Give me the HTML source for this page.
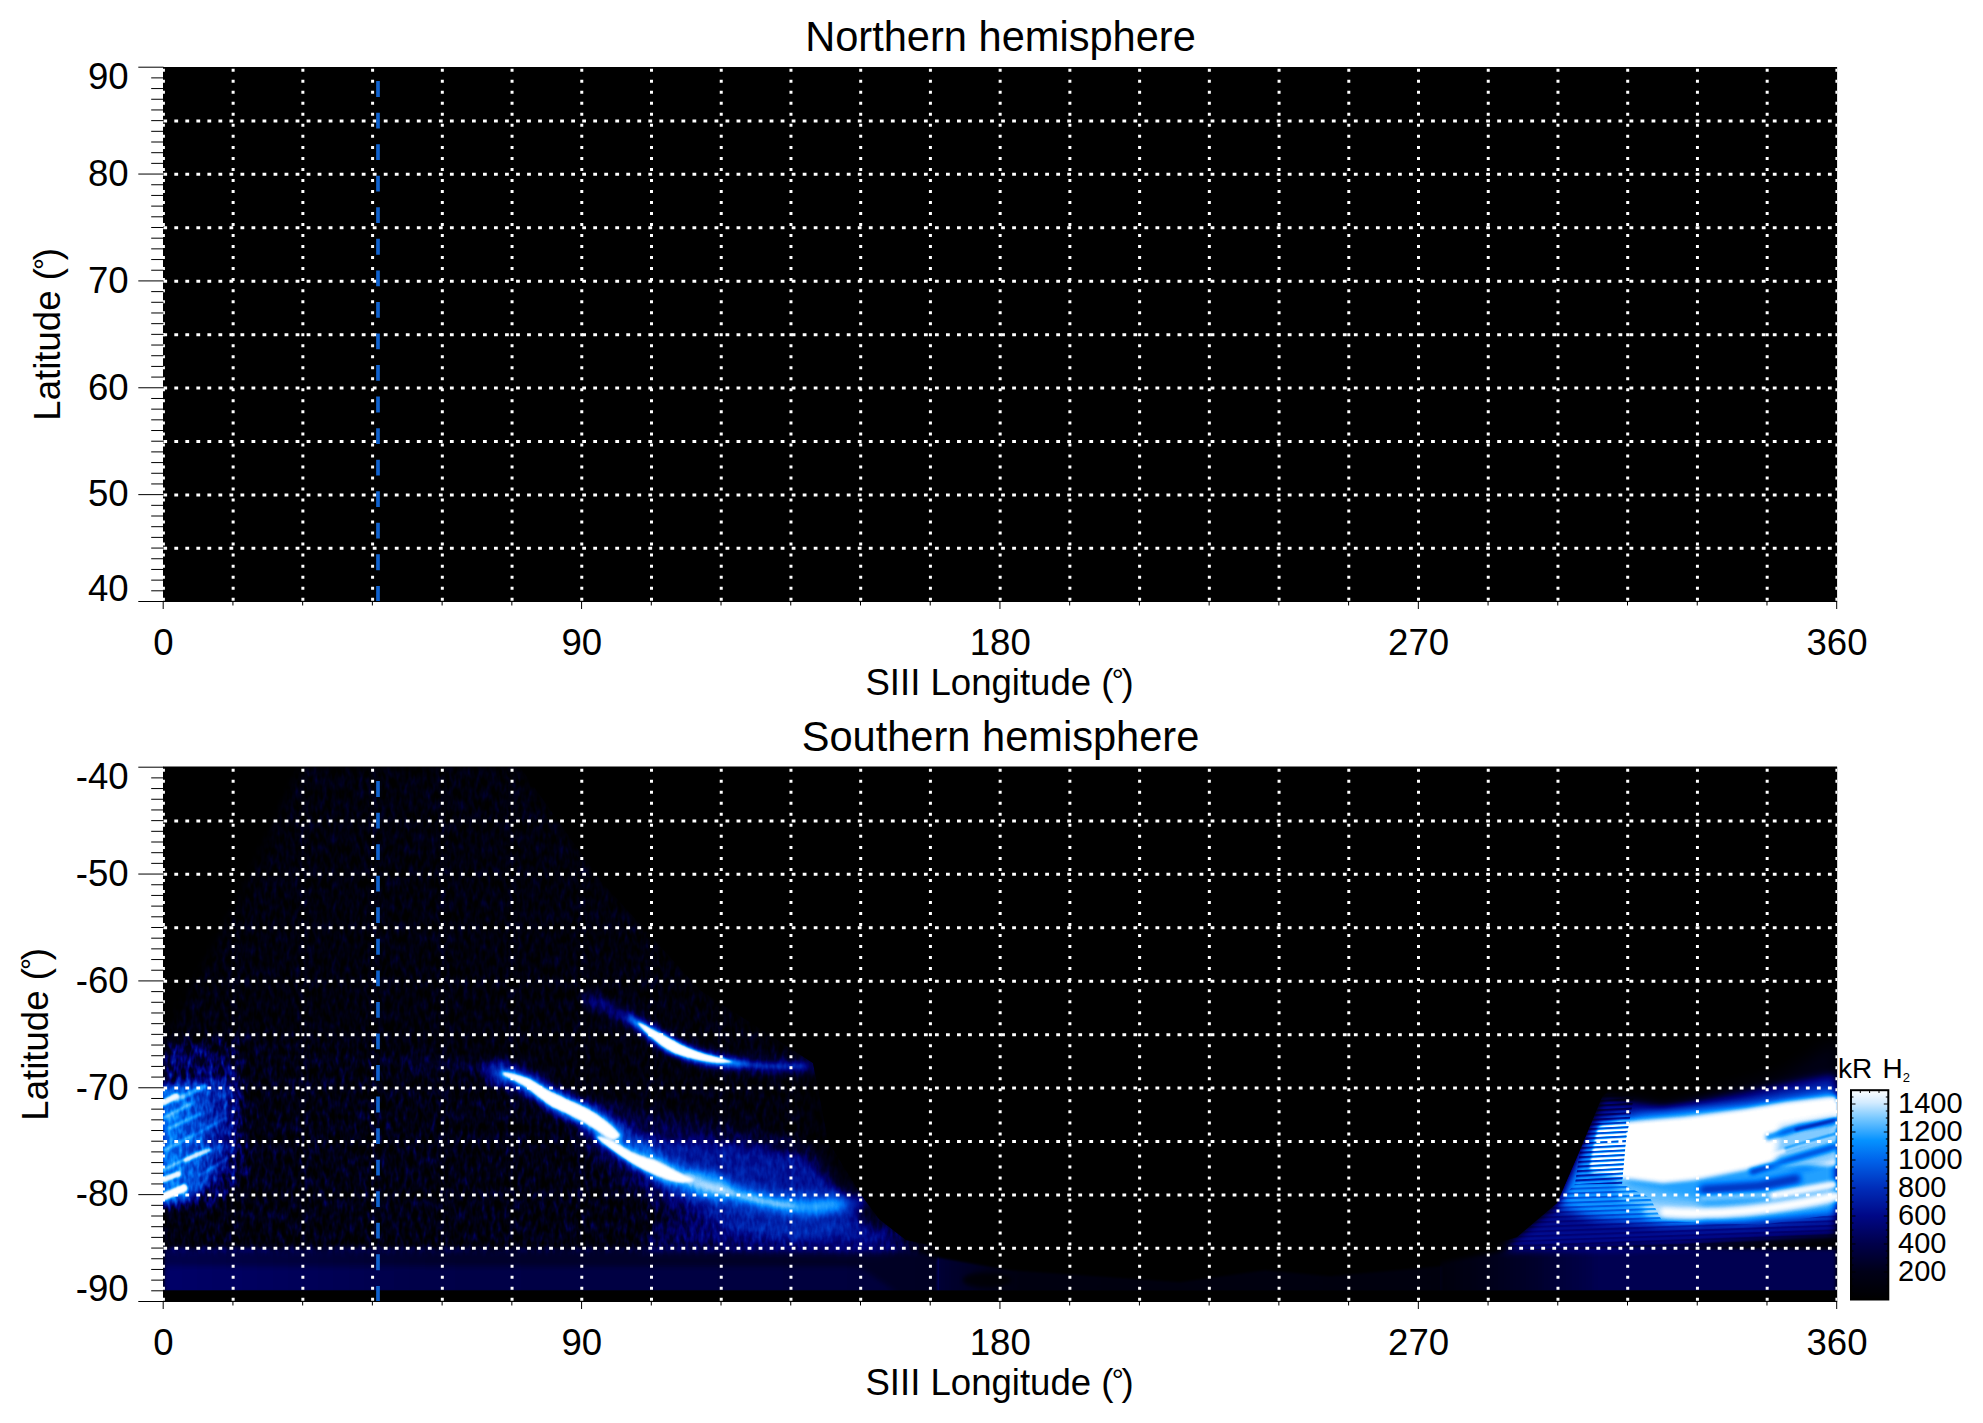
<!DOCTYPE html>
<html lang="en"><head><meta charset="utf-8"><title>Northern / Southern hemisphere</title>
<style>html,body{margin:0;padding:0;background:#fff}body{width:1983px;height:1423px;overflow:hidden}svg{display:block}text{font-family:"Liberation Sans",sans-serif;fill:#000}</style>
</head><body>
<svg width="1983" height="1423" viewBox="0 0 1983 1423">
<defs>
<clipPath id="clip0"><rect x="163" y="66.5" width="1674.1" height="535.5"/></clipPath>
<clipPath id="clip1"><rect x="163" y="766.5" width="1674.1" height="535.5"/></clipPath>
<linearGradient id="cb" x1="0" y1="1" x2="0" y2="0">
<stop offset="0" stop-color="#000000"/>
<stop offset="0.133" stop-color="#000018"/>
<stop offset="0.267" stop-color="#00004b"/>
<stop offset="0.4" stop-color="#000887"/>
<stop offset="0.533" stop-color="#002db9"/>
<stop offset="0.667" stop-color="#0064eb"/>
<stop offset="0.76" stop-color="#0592ff"/>
<stop offset="0.867" stop-color="#78c8ff"/>
<stop offset="0.94" stop-color="#d2ebff"/>
<stop offset="1" stop-color="#ffffff"/>
</linearGradient>
<filter id="cmap" filterUnits="userSpaceOnUse" x="160" y="760" width="1682" height="546" color-interpolation-filters="sRGB">
<feComponentTransfer>
<feFuncR type="table" tableValues="0 0 0 0 0 0 0 0 0 0 0 0.01 0.16 0.47 0.78 1"/>
<feFuncG type="table" tableValues="0 0 0 0 0 0 0.03 0.1 0.18 0.27 0.39 0.53 0.65 0.78 0.9 1"/>
<feFuncB type="table" tableValues="0 0.04 0.094 0.176 0.294 0.43 0.53 0.63 0.725 0.82 0.92 1 1 1 1 1"/>
</feComponentTransfer>
</filter>
<filter id="b1" color-interpolation-filters="sRGB" filterUnits="userSpaceOnUse" x="100" y="740" width="1800" height="600"><feGaussianBlur stdDeviation="1"/></filter>
<filter id="b2" color-interpolation-filters="sRGB" filterUnits="userSpaceOnUse" x="100" y="740" width="1800" height="600"><feGaussianBlur stdDeviation="2"/></filter>
<filter id="b3" color-interpolation-filters="sRGB" filterUnits="userSpaceOnUse" x="100" y="740" width="1800" height="600"><feGaussianBlur stdDeviation="3"/></filter>
<filter id="b5" color-interpolation-filters="sRGB" filterUnits="userSpaceOnUse" x="100" y="740" width="1800" height="600"><feGaussianBlur stdDeviation="5"/></filter>
<filter id="b8" color-interpolation-filters="sRGB" filterUnits="userSpaceOnUse" x="100" y="740" width="1800" height="600"><feGaussianBlur stdDeviation="8"/></filter>
<filter id="b14" color-interpolation-filters="sRGB" filterUnits="userSpaceOnUse" x="100" y="740" width="1800" height="600"><feGaussianBlur stdDeviation="14"/></filter>
<filter id="nz" filterUnits="userSpaceOnUse" x="150" y="750" width="1700" height="560" color-interpolation-filters="sRGB">
<feGaussianBlur in="SourceGraphic" stdDeviation="5" result="s"/>
<feTurbulence type="fractalNoise" baseFrequency="0.22 0.09" numOctaves="2" seed="7" result="t"/>
<feColorMatrix in="t" type="matrix" values="0 0 0 0 1  0 0 0 0 1  0 0 0 0 1  1.8 0 0 0 -0.55" result="n"/>
<feComposite in="n" in2="s" operator="in"/>
</filter>
<pattern id="comb" patternUnits="userSpaceOnUse" x="0" y="0" width="40" height="4.6" patternTransform="rotate(-3)"><rect x="0" y="0" width="40" height="2.1" fill="#000" opacity="0.38"/></pattern>
<pattern id="comb2" patternUnits="userSpaceOnUse" x="0" y="0" width="40" height="4.6" patternTransform="rotate(-2)"><rect x="0" y="0" width="40" height="2" fill="#000" opacity="0.16"/></pattern>
<clipPath id="cband"><rect x="160" y="760" width="1682" height="530.4"/></clipPath>
<clipPath id="cgl"><path d="M163 767H520L600 880L700 990L813 1063L828 1141L843 1166L864 1199L879 1219L906 1240L939 1247V1302H163Z"/></clipPath>
<clipPath id="cgr"><path d="M1837 1000V1302H1440V1250L1480 1248L1517 1237L1557 1203L1580 1150L1602 1097L1640 1060Z"/></clipPath>
<linearGradient id="lg1" x1="163" y1="0" x2="240" y2="0" gradientUnits="userSpaceOnUse">
<stop offset="0" stop-color="#fff" stop-opacity="0.62"/>
<stop offset="0.5" stop-color="#fff" stop-opacity="0.42"/>
<stop offset="1" stop-color="#fff" stop-opacity="0.1"/>
</linearGradient>
<linearGradient id="lg2" x1="1440" y1="0" x2="1600" y2="0" gradientUnits="userSpaceOnUse">
<stop offset="0" stop-color="#fff" stop-opacity="0.08"/>
<stop offset="1" stop-color="#fff" stop-opacity="0.28"/>
</linearGradient>
<linearGradient id="lg3" x1="939" y1="0" x2="1440" y2="0" gradientUnits="userSpaceOnUse">
<stop offset="0" stop-color="#fff" stop-opacity="0.22"/>
<stop offset="0.07" stop-color="#fff" stop-opacity="0.17"/>
<stop offset="0.16" stop-color="#fff" stop-opacity="0.1"/>
<stop offset="1" stop-color="#fff" stop-opacity="0.085"/>
</linearGradient>
<linearGradient id="lg4" x1="163" y1="0" x2="939" y2="0" gradientUnits="userSpaceOnUse">
<stop offset="0" stop-color="#fff" stop-opacity="0.27"/>
<stop offset="0.35" stop-color="#fff" stop-opacity="0.2"/>
<stop offset="1" stop-color="#fff" stop-opacity="0.17"/>
</linearGradient>
</defs>

<g>
<rect x="163.00" y="67.00" width="1674.10" height="535.00" fill="#000"/>
<path d="M163.40 600.70V67.20M233.13 600.70V67.20M302.86 600.70V67.20M372.59 600.70V67.20M442.32 600.70V67.20M512.05 600.70V67.20M581.77 600.70V67.20M651.50 600.70V67.20M721.23 600.70V67.20M790.96 600.70V67.20M860.69 600.70V67.20M930.42 600.70V67.20M1000.15 600.70V67.20M1069.88 600.70V67.20M1139.61 600.70V67.20M1209.34 600.70V67.20M1279.07 600.70V67.20M1348.80 600.70V67.20M1418.53 600.70V67.20M1488.25 600.70V67.20M1557.98 600.70V67.20M1627.71 600.70V67.20M1697.44 600.70V67.20M1767.17 600.70V67.20M1836.90 600.70V67.20" stroke="#fff" stroke-width="3" stroke-dasharray="3 8.02" fill="none" clip-path="url(#clip0)"/>
<path d="M163.30 120.93H1838.50M163.30 174.36H1838.50M163.30 227.79H1838.50M163.30 281.22H1838.50M163.30 334.65H1838.50M163.30 388.08H1838.50M163.30 441.51H1838.50M163.30 494.94H1838.50M163.30 548.37H1838.50" stroke="#fff" stroke-width="3" stroke-dasharray="3.8 7.224" fill="none" clip-path="url(#clip0)"/>
<path d="M378.00 601.70V67.20" stroke="#0f62cf" stroke-width="3.7" stroke-dasharray="15.8 15.75" fill="none" clip-path="url(#clip0)"/>
<path d="M138.30 67.20H163.50M151.20 77.89H163.50M151.20 88.57H163.50M151.20 99.26H163.50M151.20 109.94H163.50M151.20 120.63H163.50M151.20 131.32H163.50M151.20 142.00H163.50M151.20 152.69H163.50M151.20 163.37H163.50M138.30 174.06H163.50M151.20 184.75H163.50M151.20 195.43H163.50M151.20 206.12H163.50M151.20 216.80H163.50M151.20 227.49H163.50M151.20 238.18H163.50M151.20 248.86H163.50M151.20 259.55H163.50M151.20 270.23H163.50M138.30 280.92H163.50M151.20 291.61H163.50M151.20 302.29H163.50M151.20 312.98H163.50M151.20 323.66H163.50M151.20 334.35H163.50M151.20 345.04H163.50M151.20 355.72H163.50M151.20 366.41H163.50M151.20 377.09H163.50M138.30 387.78H163.50M151.20 398.47H163.50M151.20 409.15H163.50M151.20 419.84H163.50M151.20 430.52H163.50M151.20 441.21H163.50M151.20 451.90H163.50M151.20 462.58H163.50M151.20 473.27H163.50M151.20 483.95H163.50M138.30 494.64H163.50M151.20 505.33H163.50M151.20 516.01H163.50M151.20 526.70H163.50M151.20 537.38H163.50M151.20 548.07H163.50M151.20 558.76H163.50M151.20 569.44H163.50M151.20 580.13H163.50M151.20 590.81H163.50M138.30 601.50H163.50M163.20 601.50V609.00M232.93 601.50V605.50M302.66 601.50V605.50M372.39 601.50V605.50M442.12 601.50V605.50M511.85 601.50V605.50M581.58 601.50V609.00M651.30 601.50V605.50M721.03 601.50V605.50M790.76 601.50V605.50M860.49 601.50V605.50M930.22 601.50V605.50M999.95 601.50V609.00M1069.68 601.50V605.50M1139.41 601.50V605.50M1209.14 601.50V605.50M1278.87 601.50V605.50M1348.60 601.50V605.50M1418.33 601.50V609.00M1488.05 601.50V605.50M1557.78 601.50V605.50M1627.51 601.50V605.50M1697.24 601.50V605.50M1766.97 601.50V605.50M1836.70 601.50V609.00M163.00 601.50H1837.10" stroke="#000" stroke-width="1" fill="none"/>
<text x="128.6" y="89.40" font-size="36.60" text-anchor="end">90</text>
<text x="128.6" y="185.86" font-size="36.60" text-anchor="end">80</text>
<text x="128.6" y="292.72" font-size="36.60" text-anchor="end">70</text>
<text x="128.6" y="399.58" font-size="36.60" text-anchor="end">60</text>
<text x="128.6" y="506.44" font-size="36.60" text-anchor="end">50</text>
<text x="128.6" y="600.80" font-size="36.60" text-anchor="end">40</text>
<text x="163.50" y="655.10" font-size="36.60" text-anchor="middle">0</text>
<text x="581.88" y="655.10" font-size="36.60" text-anchor="middle">90</text>
<text x="1000.25" y="655.10" font-size="36.60" text-anchor="middle">180</text>
<text x="1418.62" y="655.10" font-size="36.60" text-anchor="middle">270</text>
<text x="1837.00" y="655.10" font-size="36.60" text-anchor="middle">360</text>
<text x="999.5" y="695.30" font-size="36.60" text-anchor="middle">SIII Longitude (<tspan font-size="30" dy="-5.5" dx="-1.8">&#176;</tspan><tspan dy="5.5" dx="-2.3">)</tspan></text>
<text transform="translate(60.1 334.35) rotate(-90)" font-size="36.60" text-anchor="middle">Latitude (<tspan font-size="30" dy="-5.5" dx="-1.8">&#176;</tspan><tspan dy="5.5" dx="-2.3">)</tspan></text>
<text x="1000.5" y="50.70" font-size="41.6" text-anchor="middle">Northern hemisphere</text>
</g>
<g>
<rect x="163.00" y="767.00" width="1674.10" height="535.00" fill="#000"/>
<g clip-path="url(#clip1)">
<g filter="url(#cmap)">
<rect x="160" y="760" width="1682" height="546" fill="#000"/>
<g clip-path="url(#cband)">
<!-- faint haze wedge (left) -->
<g clip-path="url(#cgl)">
<g filter="url(#nz)" fill="#fff">
<path d="M300 767H520L600 880L700 990L813 1063L870 1200L939 1250H163V1040L240 900Z" opacity="0.22"/>
<path d="M163 1040L260 1030L420 1050L500 1060L600 1100L700 1180L800 1245H163Z" opacity="0.1"/>
<path d="M163 1043L236 1040L250 1170L215 1205L163 1210Z" opacity="0.3"/>
</g>
<!-- bottom band left -->
<path d="M163 1247H900L939 1258V1296H163Z" fill="url(#lg4)" filter="url(#b2)"/>
<path d="M163 1266H860L900 1294H163Z" fill="#fff" opacity="0.08" filter="url(#b3)"/>
<!-- left-edge patch -->
<path d="M163 1043L200 1046L240 1060L240 1170L215 1204L163 1210Z" fill="#fff" opacity="0.14" filter="url(#b5)"/>
<path d="M160 1086L236 1078L242 1120L226 1168L192 1200L160 1206Z" fill="url(#lg1)" filter="url(#b3)"/>
<g stroke="#fff" stroke-linecap="round" fill="none" filter="url(#b1)">
<path d="M163 1103L176 1096" stroke-width="6" opacity="0.95"/>
<path d="M176 1100L205 1086" stroke-width="5" opacity="0.5"/>
<path d="M163 1118L190 1104" stroke-width="4" opacity="0.45"/>
<path d="M186 1160L209 1150" stroke-width="5" opacity="0.8"/>
<path d="M165 1150L190 1137" stroke-width="4" opacity="0.45"/>
<path d="M163 1170L200 1152" stroke-width="4" opacity="0.5"/>
<path d="M163 1180L178 1174" stroke-width="6" opacity="0.95"/>
<path d="M163 1197L184 1188" stroke-width="8" opacity="1"/>
<path d="M170 1128L200 1114" stroke-width="4" opacity="0.45"/>
<path d="M195 1135L225 1118" stroke-width="3" opacity="0.3"/>
<path d="M200 1175L228 1158" stroke-width="3" opacity="0.3"/>
</g>
<!-- diffuse glow around the main arc -->
<path d="M570 1098L650 1112L760 1132L820 1150L858 1199L900 1240L880 1250L760 1246L680 1225L620 1180L580 1140Z" fill="#fff" opacity="0.2" filter="url(#b8)"/>
<path d="M630 1136L740 1146L800 1156L836 1185L868 1230L800 1238L720 1224L660 1190Z" fill="#fff" opacity="0.26" filter="url(#b5)"/>
<path d="M690 1181C717 1188 755 1203 793 1206S843 1199 866 1203" stroke="#fff" stroke-width="28" opacity="0.28" fill="none" filter="url(#b5)"/>
<path d="M690 1180C717 1187 755 1202 793 1206S843 1199 862 1202" stroke="#fff" stroke-width="12" opacity="0.5" fill="none" filter="url(#b3)" stroke-linecap="round"/>
<path d="M700 1184C727 1192 760 1203 793 1206" stroke="#fff" stroke-width="5" opacity="0.4" fill="none" filter="url(#b2)" stroke-linecap="round"/>
<path d="M813 1063L828 1141L843 1166L864 1199L876 1215" stroke="#000" stroke-width="32" opacity="0.45" fill="none" filter="url(#b8)"/>
<path d="M660 1222L760 1226L890 1228L912 1242L939 1250H640Z" fill="#fff" opacity="0.2" filter="url(#b5)"/>
<!-- faint lead-in of main arc -->
<path d="M405 1062C440 1060 470 1064 497 1072" stroke="#fff" stroke-width="8" opacity="0.18" fill="none" filter="url(#b3)"/>
<!-- main arc halo -->
<path d="M497 1072C520 1078 536 1086 552 1098S590 1115 610 1130S640 1160 665 1171S700 1182 717 1187" stroke="#fff" stroke-width="26" opacity="0.4" fill="none" filter="url(#b5)" stroke-linecap="round"/>
<!-- main arc core, two lens-shaped segments -->
<g fill="#fff">
<path d="M499 1069C512 1071 522 1075 531 1078C541 1084 549 1090 557 1093C567 1098 577 1102 585 1106C597 1112 611 1122 623 1135C619 1143 612 1143 606 1140C598 1133 588 1126 578 1121C568 1116 560 1112 552 1109C542 1102 534 1095 526 1089C518 1084 508 1080 499 1076Z" filter="url(#b3)" opacity="0.8"/>
<path d="M594 1134C606 1136 616 1140 625 1146C635 1152 645 1156 655 1158C667 1164 681 1172 697 1179C686 1186 674 1184 664 1180C652 1176 640 1170 630 1164C618 1156 606 1148 594 1138Z" filter="url(#b3)" opacity="0.8"/>
<path d="M503 1072C512 1073 522 1076 530 1079C540 1085 548 1091 556 1094C566 1099 576 1103 584 1107C596 1113 609 1122 620 1135C617 1140 612 1140 607 1137C598 1131 588 1124 578 1119C568 1114 560 1110 552 1107C542 1100 534 1093 526 1087C518 1082 510 1078 503 1075Z" filter="url(#b1)"/>
<path d="M597 1136C606 1138 616 1142 624 1148C634 1154 644 1158 654 1160C666 1166 680 1174 694 1180C685 1184 674 1182 664 1178C652 1174 640 1168 630 1162C618 1154 606 1146 597 1138Z" filter="url(#b1)"/>
</g>
<!-- upper arc -->
<path d="M591 1000C610 1008 625 1016 640 1025S665 1043 680 1050S715 1061 740 1064S790 1066 813 1066" stroke="#fff" stroke-width="16" opacity="0.3" fill="none" filter="url(#b5)" stroke-linecap="round"/>
<g fill="#fff">
<path d="M626 1014C640 1020 648 1025 657 1030C665 1034 673 1038 681 1043C691 1048 705 1053 719 1057C727 1059 735 1060 750 1064C730 1068 716 1066 704 1064C692 1061 680 1058 671 1054C663 1050 657 1045 651 1040C643 1032 635 1026 626 1018Z" filter="url(#b3)" opacity="0.8"/>
<path d="M638 1022C646 1025 650 1028 656 1031C664 1035 672 1039 680 1044C690 1049 704 1054 718 1057C724 1058 728 1060 734 1062C724 1064 714 1063 704 1061C692 1059 680 1056 672 1052C664 1048 658 1043 652 1038C646 1033 642 1028 638 1024Z" filter="url(#b1)"/>
</g>
<path d="M734 1063C755 1066 780 1067 805 1066" stroke="#fff" stroke-width="5" opacity="0.35" fill="none" filter="url(#b2)"/>
</g>
<!-- middle bottom band (very dim) -->
<path d="M937 1257L1010 1270L1180 1282L1265 1270L1330 1276L1442 1266V1296H937Z" fill="url(#lg3)" filter="url(#b1)"/>
<ellipse cx="987" cy="1280" rx="24" ry="7" fill="#000" opacity="0.7" filter="url(#b2)"/>
<!-- right blob -->
<g clip-path="url(#cgr)">
<path d="M1440 1262L1520 1248H1837V1296H1440Z" fill="url(#lg2)" filter="url(#b2)"/>
<path d="M1837 1040L1780 1075L1700 1095L1640 1100L1602 1097L1837 1097Z" fill="#fff" opacity="0.12" filter="url(#b8)"/>
<path d="M1602 1097L1663 1105L1745 1092L1837 1074V1236L1745 1242L1683 1246L1600 1248L1500 1250L1557 1203L1580 1150Z" fill="#fff" opacity="0.42" filter="url(#b5)"/>
<path d="M1590 1135L1622 1116L1745 1104L1837 1090V1217L1745 1225L1663 1226L1585 1214L1560 1204Z" fill="#fff" opacity="0.4" filter="url(#b5)"/>
<path d="M1606 1128L1640 1114L1745 1104L1837 1092V1212L1745 1220L1663 1218L1620 1200Z" fill="#fff" opacity="0.4" filter="url(#b5)"/>
<path d="M1600 1124L1684 1117L1745 1109L1786 1102L1837 1096V1166L1800 1166L1765 1166L1745 1170L1694 1180L1663 1183L1622 1178L1590 1172L1594 1150Z" fill="#fff" filter="url(#b2)"/>
<path d="M1598 1128L1700 1120L1780 1108L1837 1102V1128L1780 1140L1745 1160L1694 1174L1663 1177L1616 1174L1590 1168L1593 1150Z" fill="#fff" filter="url(#b1)"/>
<path d="M1592 1122L1626 1112L1626 1184L1700 1200L1700 1224L1600 1222L1556 1210L1578 1160Z" fill="#fff" opacity="0.32" filter="url(#b5)"/>
<!-- blue incursions on the right part -->
<path d="M1766 1138L1800 1127L1837 1121" stroke="#000" stroke-width="5" opacity="0.3" fill="none" filter="url(#b2)"/>
<path d="M1785 1150L1812 1142L1837 1135" stroke="#000" stroke-width="4" opacity="0.28" fill="none" filter="url(#b1)"/>
<path d="M1750 1172L1795 1158L1837 1146" stroke="#000" stroke-width="6" opacity="0.3" fill="none" filter="url(#b2)"/>
<path d="M1700 1190L1760 1186L1800 1178" stroke="#000" stroke-width="8" opacity="0.35" fill="none" filter="url(#b3)"/>
<!-- lower white bands -->
<path d="M1650 1211C1680 1214 1710 1215 1745 1211S1800 1204 1837 1196" stroke="#fff" stroke-width="14" opacity="0.5" fill="none" filter="url(#b3)" stroke-linecap="round"/>
<path d="M1665 1212C1690 1214 1715 1214 1745 1211S1800 1204 1837 1196" stroke="#fff" stroke-width="8" fill="none" filter="url(#b2)" stroke-linecap="round"/>
<path d="M1770 1196L1837 1184" stroke="#fff" stroke-width="7" fill="none" filter="url(#b2)"/>
<path d="M1700 1198L1770 1194" stroke="#fff" stroke-width="5" opacity="0.5" fill="none" filter="url(#b2)"/>
<!-- comb-like streak texture -->
<path d="M1602 1090L1634 1096L1626 1140L1622 1184L1575 1184L1580 1150Z" fill="url(#comb)"/>
<path d="M1575 1184L1622 1184L1650 1198L1662 1221L1760 1225L1837 1214V1250H1500L1557 1203Z" fill="url(#comb2)"/>
<path d="M1780 1126L1837 1116V1160L1805 1170L1775 1162Z" fill="#000" opacity="0.12" filter="url(#b3)"/>
<path d="M1795 1130L1815 1125L1837 1119" stroke="#000" stroke-width="3" opacity="0.25" fill="none" filter="url(#b1)"/>
<path d="M1755 1160L1800 1146L1837 1136" stroke="#fff" stroke-width="4" opacity="0.7" fill="none" filter="url(#b1)"/>
</g>
</g>
</g>
</g>

<path d="M163.40 1300.70V767.20M233.13 1300.70V767.20M302.86 1300.70V767.20M372.59 1300.70V767.20M442.32 1300.70V767.20M512.05 1300.70V767.20M581.77 1300.70V767.20M651.50 1300.70V767.20M721.23 1300.70V767.20M790.96 1300.70V767.20M860.69 1300.70V767.20M930.42 1300.70V767.20M1000.15 1300.70V767.20M1069.88 1300.70V767.20M1139.61 1300.70V767.20M1209.34 1300.70V767.20M1279.07 1300.70V767.20M1348.80 1300.70V767.20M1418.53 1300.70V767.20M1488.25 1300.70V767.20M1557.98 1300.70V767.20M1627.71 1300.70V767.20M1697.44 1300.70V767.20M1767.17 1300.70V767.20M1836.90 1300.70V767.20" stroke="#fff" stroke-width="3" stroke-dasharray="3 8.02" fill="none" clip-path="url(#clip1)"/>
<path d="M163.30 820.93H1838.50M163.30 874.36H1838.50M163.30 927.79H1838.50M163.30 981.22H1838.50M163.30 1034.65H1838.50M163.30 1088.08H1838.50M163.30 1141.51H1838.50M163.30 1194.94H1838.50M163.30 1248.37H1838.50" stroke="#fff" stroke-width="3" stroke-dasharray="3.8 7.224" fill="none" clip-path="url(#clip1)"/>
<path d="M378.00 1301.70V767.20" stroke="#0f62cf" stroke-width="3.7" stroke-dasharray="15.8 15.75" fill="none" clip-path="url(#clip1)"/>
<path d="M138.30 767.20H163.50M151.20 777.89H163.50M151.20 788.57H163.50M151.20 799.26H163.50M151.20 809.94H163.50M151.20 820.63H163.50M151.20 831.32H163.50M151.20 842.00H163.50M151.20 852.69H163.50M151.20 863.37H163.50M138.30 874.06H163.50M151.20 884.75H163.50M151.20 895.43H163.50M151.20 906.12H163.50M151.20 916.80H163.50M151.20 927.49H163.50M151.20 938.18H163.50M151.20 948.86H163.50M151.20 959.55H163.50M151.20 970.23H163.50M138.30 980.92H163.50M151.20 991.61H163.50M151.20 1002.29H163.50M151.20 1012.98H163.50M151.20 1023.66H163.50M151.20 1034.35H163.50M151.20 1045.04H163.50M151.20 1055.72H163.50M151.20 1066.41H163.50M151.20 1077.09H163.50M138.30 1087.78H163.50M151.20 1098.47H163.50M151.20 1109.15H163.50M151.20 1119.84H163.50M151.20 1130.52H163.50M151.20 1141.21H163.50M151.20 1151.90H163.50M151.20 1162.58H163.50M151.20 1173.27H163.50M151.20 1183.95H163.50M138.30 1194.64H163.50M151.20 1205.33H163.50M151.20 1216.01H163.50M151.20 1226.70H163.50M151.20 1237.38H163.50M151.20 1248.07H163.50M151.20 1258.76H163.50M151.20 1269.44H163.50M151.20 1280.13H163.50M151.20 1290.81H163.50M138.30 1301.50H163.50M163.20 1301.50V1309.00M232.93 1301.50V1305.50M302.66 1301.50V1305.50M372.39 1301.50V1305.50M442.12 1301.50V1305.50M511.85 1301.50V1305.50M581.58 1301.50V1309.00M651.30 1301.50V1305.50M721.03 1301.50V1305.50M790.76 1301.50V1305.50M860.49 1301.50V1305.50M930.22 1301.50V1305.50M999.95 1301.50V1309.00M1069.68 1301.50V1305.50M1139.41 1301.50V1305.50M1209.14 1301.50V1305.50M1278.87 1301.50V1305.50M1348.60 1301.50V1305.50M1418.33 1301.50V1309.00M1488.05 1301.50V1305.50M1557.78 1301.50V1305.50M1627.51 1301.50V1305.50M1697.24 1301.50V1305.50M1766.97 1301.50V1305.50M1836.70 1301.50V1309.00M163.00 1301.50H1837.10" stroke="#000" stroke-width="1" fill="none"/>
<text x="128.6" y="789.40" font-size="36.60" text-anchor="end">-40</text>
<text x="128.6" y="885.86" font-size="36.60" text-anchor="end">-50</text>
<text x="128.6" y="992.72" font-size="36.60" text-anchor="end">-60</text>
<text x="128.6" y="1099.58" font-size="36.60" text-anchor="end">-70</text>
<text x="128.6" y="1206.44" font-size="36.60" text-anchor="end">-80</text>
<text x="128.6" y="1300.80" font-size="36.60" text-anchor="end">-90</text>
<text x="163.50" y="1355.10" font-size="36.60" text-anchor="middle">0</text>
<text x="581.88" y="1355.10" font-size="36.60" text-anchor="middle">90</text>
<text x="1000.25" y="1355.10" font-size="36.60" text-anchor="middle">180</text>
<text x="1418.62" y="1355.10" font-size="36.60" text-anchor="middle">270</text>
<text x="1837.00" y="1355.10" font-size="36.60" text-anchor="middle">360</text>
<text x="999.5" y="1395.30" font-size="36.60" text-anchor="middle">SIII Longitude (<tspan font-size="30" dy="-5.5" dx="-1.8">&#176;</tspan><tspan dy="5.5" dx="-2.3">)</tspan></text>
<text transform="translate(47.8 1034.35) rotate(-90)" font-size="36.60" text-anchor="middle">Latitude (<tspan font-size="30" dy="-5.5" dx="-1.8">&#176;</tspan><tspan dy="5.5" dx="-2.3">)</tspan></text>
<text x="1000.5" y="750.70" font-size="41.6" text-anchor="middle">Southern hemisphere</text>
</g>
<g>
<rect x="1851" y="1090.2" width="37.3" height="209.3" fill="url(#cb)" stroke="#000" stroke-width="2"/>
<path d="M1851 1104H1855.5M1851 1132H1855.5M1851 1160H1855.5M1851 1188H1855.5M1851 1216H1855.5M1851 1244H1855.5M1851 1272H1855.5M1888.3 1104H1883.8M1888.3 1132H1883.8M1888.3 1160H1883.8M1888.3 1188H1883.8M1888.3 1216H1883.8M1888.3 1244H1883.8M1888.3 1272H1883.8" stroke="#000" stroke-width="1.2" fill="none"/>
<path d="M1851 1097H1853.5M1851 1111H1853.5M1851 1118H1853.5M1851 1125H1853.5M1851 1139H1853.5M1851 1146H1853.5M1851 1153H1853.5M1851 1167H1853.5M1851 1174H1853.5M1851 1181H1853.5M1851 1195H1853.5M1851 1202H1853.5M1851 1209H1853.5M1851 1223H1853.5M1851 1230H1853.5M1851 1237H1853.5M1851 1251H1853.5M1851 1258H1853.5M1851 1265H1853.5M1851 1279H1853.5M1851 1286H1853.5M1851 1293H1853.5M1888.3 1097H1885.8M1888.3 1111H1885.8M1888.3 1118H1885.8M1888.3 1125H1885.8M1888.3 1139H1885.8M1888.3 1146H1885.8M1888.3 1153H1885.8M1888.3 1167H1885.8M1888.3 1174H1885.8M1888.3 1181H1885.8M1888.3 1195H1885.8M1888.3 1202H1885.8M1888.3 1209H1885.8M1888.3 1223H1885.8M1888.3 1230H1885.8M1888.3 1237H1885.8M1888.3 1251H1885.8M1888.3 1258H1885.8M1888.3 1265H1885.8M1888.3 1279H1885.8M1888.3 1286H1885.8M1888.3 1293H1885.8M1860.3 1090V1093M1869.6 1090V1093M1879 1090V1093" stroke="#000" stroke-width="1" fill="none"/>
<text x="1838" y="1078" font-size="28" word-spacing="2.5">kR H<tspan font-size="13" dy="4">2</tspan></text>
<g font-size="29">
<text x="1898" y="1112.5">1400</text>
<text x="1898" y="1140.5">1200</text>
<text x="1898" y="1168.5">1000</text>
<text x="1898" y="1196.5">800</text>
<text x="1898" y="1224.5">600</text>
<text x="1898" y="1252.5">400</text>
<text x="1898" y="1280.5">200</text>
</g>
</g>

</svg></body></html>
